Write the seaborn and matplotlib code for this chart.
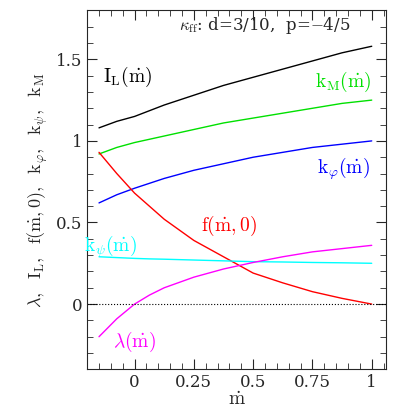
import matplotlib
matplotlib.use("Agg")
import matplotlib.pyplot as plt
from matplotlib.ticker import MultipleLocator
import pandas as pd
import seaborn as sns

mdot = [-0.15, -0.075, 0.0, 0.0625, 0.125, 0.25, 0.375, 0.5, 0.625, 0.75, 0.875, 1.0]
I_L = [1.08, 1.12, 1.15, 1.185, 1.22, 1.28, 1.34, 1.39, 1.44, 1.49, 1.54, 1.58]
k_M = [0.92, 0.96, 0.99, 1.01, 1.03, 1.07, 1.11, 1.14, 1.17, 1.20, 1.23, 1.25]
k_phi = [0.62, 0.67, 0.71, 0.74, 0.77, 0.82, 0.86, 0.90, 0.93, 0.96, 0.98, 1.00]
f_m0 = [0.93, 0.80, 0.68, 0.60, 0.52, 0.39, 0.29, 0.19, 0.13, 0.076, 0.035, 0.0]
k_psi = [0.29, 0.285, 0.28, 0.277, 0.275, 0.27, 0.265, 0.26, 0.258, 0.255, 0.253, 0.25]
lam = [-0.2, -0.09, 0.0, 0.055, 0.10, 0.165, 0.215, 0.255, 0.29, 0.32, 0.34, 0.36]

df = pd.DataFrame({"mdot": mdot, "I_L": I_L, "k_M": k_M, "k_phi": k_phi,
                   "f": f_m0, "k_psi": k_psi, "lam": lam})

sns.set_style("ticks")
plt.rcParams['font.family'] = ['DejaVu Serif']
plt.rcParams['mathtext.fontset'] = 'cm'

fig, ax = plt.subplots(figsize=(4.15, 4.15), dpi=100)
cols = {"I_L": "black", "k_M": "#00e000", "k_phi": "blue", "f": "red",
        "k_psi": "cyan", "lam": "magenta"}
for key, c in cols.items():
    sns.lineplot(data=df, x="mdot", y=key, color=c, lw=1.0, ax=ax)
ax.axhline(0, color="black", ls=":", lw=0.8)

ax.set_xlim(-0.2, 1.06)
ax.set_ylim(-0.4, 1.8)
ax.xaxis.set_major_locator(MultipleLocator(0.25))
ax.xaxis.set_minor_locator(MultipleLocator(0.05))
ax.yaxis.set_major_locator(MultipleLocator(0.5))
ax.yaxis.set_minor_locator(MultipleLocator(0.1))
ax.set_xticks([0, 0.25, 0.5, 0.75, 1])
ax.set_xticklabels(["0", "0.25", "0.5", "0.75", "1"])
ax.set_yticks([0, 0.5, 1, 1.5])
ax.set_yticklabels(["0", "0.5", "1", "1.5"])
ax.tick_params(which="both", direction="in", top=True, right=True, labelsize=12)
ax.tick_params(which="major", length=7)
ax.tick_params(which="minor", length=4)

ax.set_xlabel(r"$\dot{\rm m}$", fontsize=14, labelpad=0)
ax.set_ylabel(r"$\lambda,\ \ {\rm I_L},\ \ {\rm f}(\dot{\rm m},0),\ \ {\rm k_\varphi},\ \ {\rm k_\psi},\ \ {\rm k_M}$",
              fontsize=13)

fs = 14
ax.text(0.55, 1.71, r"$\kappa_{\rm ff}$: d=3/10,  p=$-$4/5", fontsize=12, ha="center", va="center")
ax.text(-0.03, 1.36, r"${\rm I_L}(\dot{\rm m})$", fontsize=fs, ha="center", color="black")
ax.text(0.88, 1.33, r"${\rm k_M}(\dot{\rm m})$", fontsize=fs, ha="center", color="#00e000")
ax.text(0.88, 0.8, r"${\rm k_\varphi}(\dot{\rm m})$", fontsize=fs, ha="center", color="blue")
ax.text(0.40, 0.45, r"${\rm f}(\dot{\rm m},0)$", fontsize=fs, ha="center", color="red")
ax.text(-0.1, 0.32, r"${\rm k_\psi}(\dot{\rm m})$", fontsize=fs, ha="center", color="cyan")
ax.text(0.0, -0.26, r"$\lambda(\dot{\rm m})$", fontsize=fs, ha="center", color="magenta")

fig.subplots_adjust(left=0.21, right=0.93, bottom=0.11, top=0.975)
fig.savefig("out.png", dpi=100)
